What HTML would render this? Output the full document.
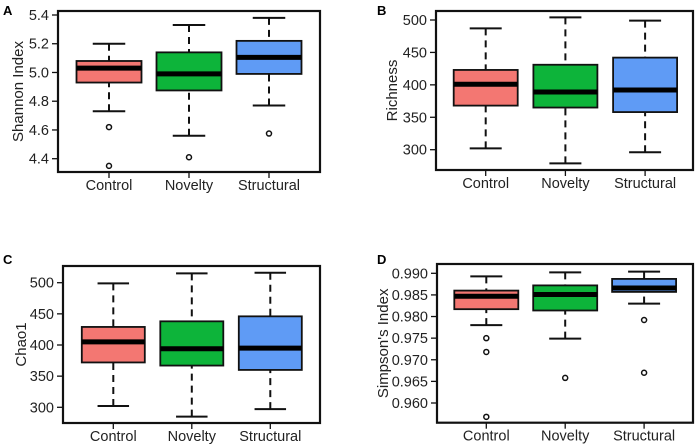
<!DOCTYPE html>
<html><head><meta charset="utf-8"><style>
html,body{margin:0;padding:0;background:#fff;}
svg{display:block;font-family:"Liberation Sans",Arial,sans-serif;}
</style></head><body>
<svg id="chart" width="699" height="447" viewBox="0 0 699 447" xmlns="http://www.w3.org/2000/svg"></svg>
<script>
const categories = ["Control","Novelty","Structural"];
const colors = ["#F37772","#0DB43A","#5F9BF5"];
// [whiskerHigh, q3, median, q1, whiskerLow]
const shannonStats = [[5.20,5.08,5.03,4.93,4.73],[5.33,5.14,4.99,4.875,4.56],[5.38,5.22,5.105,4.99,4.77]];
const shannonOutliers = [[4.62,4.35],[4.41],[4.575]];
const shannonTicks = [4.4,4.6,4.8,5.0,5.2,5.4];
const richnessStats = [[487,423,401,368,302],[504,431,389,365,279],[499,442,392,358,296]];
const richnessOutliers = [[],[],[]];
const richnessTicks = [300,350,400,450,500];
const chaoStats = [[499,429,405,372,302],[515,438,394,367,285],[516,446,395,360,297]];
const chaoOutliers = [[],[],[]];
const chaoTicks = [300,350,400,450,500];
const simpsonStats = [[0.9893,0.986,0.9847,0.9817,0.978],[0.9902,0.9872,0.9851,0.9814,0.9749],[0.9904,0.9887,0.9866,0.9857,0.983]];
const simpsonOutliers = [[0.975,0.9718,0.9568],[0.9658],[0.9792,0.967]];
const simpsonTicks = [0.960,0.965,0.970,0.975,0.980,0.985,0.990];

const NS="http://www.w3.org/2000/svg";
const svg=document.getElementById('chart');
function mk(tag,attrs,parent){const e=document.createElementNS(NS,tag);for(const k in attrs)e.setAttribute(k,attrs[k]);(parent||svg).appendChild(e);return e;}

function panel(cfg){
  const g=mk('g',{});
  
  
  const y=v=>cfg.py0+(v-cfg.v0)*(cfg.py1-cfg.py0)/(cfg.v1-cfg.v0);
  const x=i=>cfg.cx0+i*cfg.step;
  const lt=mk('text',{x:cfg.letterX,y:cfg.letterY,'font-size':13,'font-weight':'bold'},g);lt.textContent=cfg.letter;
  
  
  cfg.ticks.forEach(t=>{
    const yy=y(t);
    mk('line',{x1:cfg.fx0-6,x2:cfg.fx0,y1:yy,y2:yy,stroke:'#111','stroke-width':1.3},g);
    const tx=mk('text',{x:cfg.fx0-9,y:yy+5,'font-size':14.5,'text-anchor':'end',fill:'#222'},g);
    tx.textContent=t.toFixed(cfg.dec);
    
    
  });
  const at=mk('text',{transform:`translate(${cfg.titleX},${(cfg.fy0+cfg.fy1)/2}) rotate(-90)`,'font-size':15,'text-anchor':'middle',fill:'#222'},g);
  at.textContent=cfg.title;
  
  
  cfg.stats.forEach((s,i)=>{
    const cx=x(i),hw=cfg.hw;
    const bg=mk('g',{},g);
    
    
    mk('line',{x1:cx,x2:cx,y1:y(s[0]),y2:y(s[1]),stroke:'#111','stroke-width':2,'stroke-dasharray':'7,5'},bg);
    mk('line',{x1:cx,x2:cx,y1:y(s[4]),y2:y(s[3]),stroke:'#111','stroke-width':2,'stroke-dasharray':'7,5'},bg);
    mk('line',{x1:cx-hw/2,x2:cx+hw/2,y1:y(s[0]),y2:y(s[0]),stroke:'#111','stroke-width':2},bg);
    mk('line',{x1:cx-hw/2,x2:cx+hw/2,y1:y(s[4]),y2:y(s[4]),stroke:'#111','stroke-width':2},bg);
    mk('rect',{x:cx-hw,y:y(s[1]),width:2*hw,height:y(s[3])-y(s[1]),fill:colors[i],stroke:'#111','stroke-width':1.8},bg);
    mk('line',{x1:cx-hw,x2:cx+hw,y1:y(s[2]),y2:y(s[2]),stroke:'#000','stroke-width':5},bg);
    cfg.outliers[i].forEach(o=>{
      const c=mk('circle',{cx:cx,cy:y(o),r:2.5,fill:'none',stroke:'#111','stroke-width':1.5},bg);
      
      
    });
    mk('line',{x1:cx,x2:cx,y1:cfg.fy1,y2:cfg.fy1+6,stroke:'#111','stroke-width':1.3},g);
    const xl=mk('text',{x:cx,y:cfg.fy1+18,'font-size':14.5,'text-anchor':'middle',fill:'#222'},g);
    xl.textContent=categories[i];
    
    
  });
  const fr=mk('rect',{x:cfg.fx0,y:cfg.fy0,width:cfg.fx1-cfg.fx0,height:cfg.fy1-cfg.fy0,fill:'none',stroke:'#111','stroke-width':2.2},g);
  
  
}

panel({name:'panel-a-shannon',letter:'A',letterX:3,letterY:15,title:'Shannon Index',titleX:23,dec:1,
  fx0:58,fx1:320,fy0:11,fy1:172,v0:5.4,v1:4.4,py0:15,py1:158.7,cx0:109,step:80,hw:32.5,
  stats:shannonStats,outliers:shannonOutliers,ticks:shannonTicks});
panel({name:'panel-b-richness',letter:'B',letterX:377,letterY:15,title:'Richness',titleX:397,dec:0,
  fx0:436,fx1:693,fy0:11,fy1:170,v0:500,v1:300,py0:20,py1:149.7,cx0:485.7,step:79.7,hw:32,
  stats:richnessStats,outliers:richnessOutliers,ticks:richnessTicks});
panel({name:'panel-c-chao1',letter:'C',letterX:3,letterY:264,title:'Chao1',titleX:26,dec:0,
  fx0:63,fx1:320,fy0:266,fy1:423,v0:500,v1:300,py0:282.7,py1:407.3,cx0:113.3,step:78.5,hw:31.5,
  stats:chaoStats,outliers:chaoOutliers,ticks:chaoTicks});
panel({name:'panel-d-simpson',letter:'D',letterX:377,letterY:264,title:"Simpson's Index",titleX:388,dec:3,
  fx0:437,fx1:693,fy0:264,fy1:422.7,v0:0.990,v1:0.960,py0:273.3,py1:403,cx0:486.3,step:78.9,hw:32,
  stats:simpsonStats,outliers:simpsonOutliers,ticks:simpsonTicks});
</script>
</body></html>
